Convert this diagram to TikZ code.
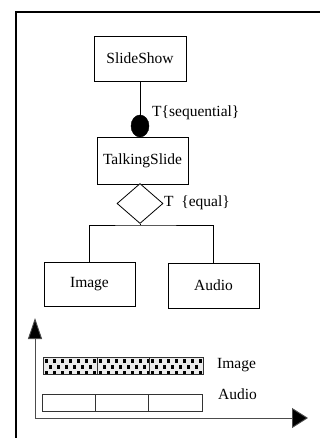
\documentclass[tikz,border=0pt]{standalone}
\usepackage{fontspec}
\setmainfont{Liberation Serif}
\usetikzlibrary{arrows.meta,shapes.geometric}
\begin{document}
\begin{tikzpicture}[x=1pt,y=-1pt,
  box/.style={draw,line width=0.9pt,inner sep=0pt,font=\fontsize{15.5}{17}\selectfont},
  lbl/.style={inner sep=0pt,anchor=west,font=\fontsize{15.5}{17}\selectfont},
  link/.style={line width=0.8pt},
  axis/.style={line width=0.9pt,draw=black!70},
  uptip/.style={-{Triangle[length=21pt,width=14pt,fill=black]}},
  righttip/.style={-{Triangle[length=16pt,width=20pt,fill=black]}},
  seg/.style={draw=black!80,line width=0.8pt}]
\useasboundingbox (0,0) rectangle (320,438);
% page frame
\draw[line width=2pt] (16,438) -- (16,12) -- (320,12);

% structure tree
\node[box,minimum width=92pt,minimum height=45pt] (show) at (140,58.5) {SlideShow};
\node[box,minimum width=91pt,minimum height=47pt] (talk) at (142.5,160.5) {TalkingSlide};
\node[draw,fill=black,ellipse,minimum width=18pt,minimum height=22pt,inner sep=0pt] (seq) at (140,126) {};
\draw[link] (show.south) -- (seq.north);
\node[lbl] (seqlbl) at (152,113) {T\{sequential\}};
\node[draw,diamond,line width=0.8pt,minimum width=46pt,minimum height=40pt,inner sep=0pt,fill=white] (par) at (140,203.5) {};
\node[lbl] (parlbl) at (164,203) {T\ \ \{equal\}};
\node[box,minimum width=91pt,minimum height=44pt] (img) at (89.5,284) {Image};
\node[box,minimum width=91pt,minimum height=45pt] (aud) at (213.5,285.5) {Audio};
\coordinate (fork) at (140,225);
\draw[link] (par.south) -- (fork);
\draw[link] (img.north) |- (fork) -| (aud.north);

% timeline axes
\coordinate (orig) at (35,418);
\coordinate (ytip) at (35,318);
\coordinate (xtip) at (308,418);
\draw[axis,uptip] (orig) -- (ytip);
\draw[axis,righttip] (orig) -- (xtip);

% image track: dotted blocks
\foreach \a/\b in {43/97,97/149,149/203}{
  \begin{scope}
    \clip (\a,357) rectangle (\b,374);
    \fill[black!8] (\a,357) rectangle (\b,374);
    \foreach \k in {0,...,7}{
      \fill (\a+2+8*\k,359) rectangle +(3,3.5);
      \fill (\a+6+8*\k,365) rectangle +(3,3.5);
      \fill (\a+2+8*\k,371) rectangle +(3,3.5);
    }
  \end{scope}
  \draw[seg] (\a,357) rectangle (\b,374);
}
\node[lbl] (imglbl) at (217,365.5) {Image};

% audio track: plain blocks
\foreach \a/\b in {42/95,95/148,148/202}{
  \draw[seg] (\a,394) rectangle (\b,411);
}
\node[lbl] (audlbl) at (218,394) {Audio};
\end{tikzpicture}
\end{document}
